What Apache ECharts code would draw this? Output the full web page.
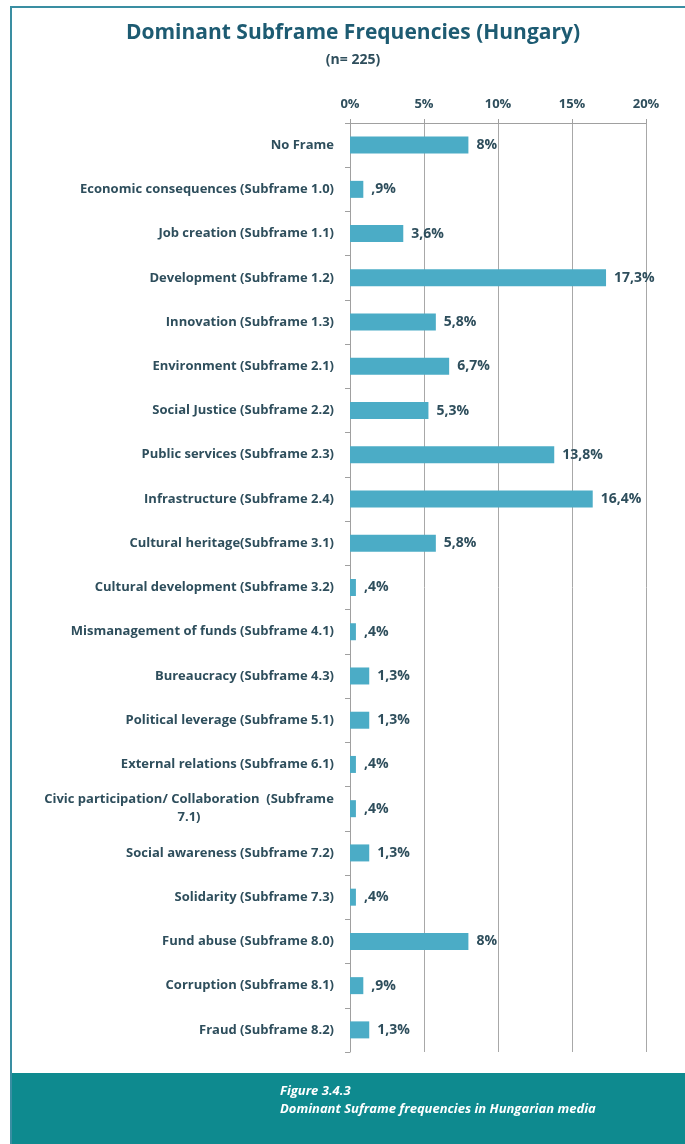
<!doctype html>
<html lang="en">
<head>
<meta charset="UTF-8">
<title>Dominant Subframe Frequencies (Hungary)</title>
<style>
  html, body { margin: 0; padding: 0; background: #fff; }
  #chart { width: 685px; height: 1144px; }
</style>
</head>
<body>
<div id="chart"></div>
<script src="https://cdn.jsdelivr.net/npm/echarts@6/dist/echarts.min.js"></script>
<script>
  // data
  var categories = [
    'No Frame',
    'Economic consequences (Subframe 1.0)',
    'Job creation (Subframe 1.1)',
    'Development (Subframe 1.2)',
    'Innovation (Subframe 1.3)',
    'Environment (Subframe 2.1)',
    'Social Justice (Subframe 2.2)',
    'Public services (Subframe 2.3)',
    'Infrastructure (Subframe 2.4)',
    'Cultural heritage(Subframe 3.1)',
    'Cultural development (Subframe 3.2)',
    'Mismanagement of funds (Subframe 4.1)',
    'Bureaucracy (Subframe 4.3)',
    'Political leverage (Subframe 5.1)',
    'External relations (Subframe 6.1)',
    'Civic participation/ Collaboration  (Subframe\n7.1)',
    'Social awareness (Subframe 7.2)',
    'Solidarity (Subframe 7.3)',
    'Fund abuse (Subframe 8.0)',
    'Corruption (Subframe 8.1)',
    'Fraud (Subframe 8.2)'
  ];
  var values = [8, 0.9, 3.6, 17.3, 5.8, 6.7, 5.3, 13.8, 16.4, 5.8, 0.4, 0.4, 1.3, 1.3, 0.4, 0.4, 1.3, 0.4, 8, 0.9, 1.3];
  var xTicks = { min: 0, max: 20, interval: 5 };

  var textColor = '#2e4e5c';
  var font = 'Open Sans';

  // 0.9 -> ",9%"   3.6 -> "3,6%"   8 -> "8%"
  function pct(v) {
    var s = String(v).replace('.', ',');
    if (s.indexOf('0,') === 0) s = s.slice(1);
    return s + '%';
  }

  var chart = echarts.init(document.getElementById('chart'));
  chart.setOption({
    backgroundColor: '#fff',
    animation: false,
    title: [{
      text: 'Dominant Subframe Frequencies (Hungary)',
      left: 348, top: 18, textAlign: 'center',
      textStyle: { fontFamily: font, fontSize: 21, fontWeight: 'bold', color: '#1d5b72' }
    }, {
      text: '(n= 225)',
      left: 348, top: 48, textAlign: 'center',
      textStyle: { fontFamily: font, fontSize: 14, fontWeight: 'bold', color: textColor }
    }],
    grid: { left: 350, right: 39, top: 123, bottom: 92, containLabel: false },
    xAxis: {
      type: 'value',
      position: 'top',
      min: xTicks.min, max: xTicks.max, interval: xTicks.interval,
      axisLine: { show: true, lineStyle: { color: '#a0a0a0', width: 1 } },
      axisTick: { show: true, length: 4, lineStyle: { color: '#a0a0a0' } },
      splitLine: { show: true, lineStyle: { color: '#a8a8a8', width: 1 } },
      axisLabel: {
        formatter: '{value}%', margin: 12,
        fontFamily: font, fontSize: 13, fontWeight: 'bold', color: textColor
      }
    },
    yAxis: {
      type: 'category',
      inverse: true,
      data: categories,
      axisLine: { show: true, lineStyle: { color: '#a0a0a0', width: 1 } },
      axisTick: { show: true, length: 5, lineStyle: { color: '#a0a0a0' } },
      axisLabel: {
        margin: 16,
        fontFamily: font, fontSize: 13, fontWeight: 'bold', color: textColor,
        lineHeight: 18,
        formatter: function (v) {
          if (v.indexOf('\n') < 0) return v;
          return v.split('\n').map(function (l) { return '{c|' + l + '}'; }).join('\n');
        },
        rich: {
          c: { width: 290, align: 'center', fontFamily: font, fontSize: 13, fontWeight: 'bold', color: textColor, lineHeight: 18 }
        }
      }
    },
    series: [{
      type: 'bar',
      data: values,
      barWidth: 17,
      itemStyle: { color: '#4bacc6' },
      label: {
        show: true, position: 'right', distance: 8,
        formatter: function (p) { return pct(p.value); },
        fontFamily: font, fontSize: 14, fontWeight: 'bold', color: textColor
      }
    }],
    graphic: [
      // thin frame round the white area
      { type: 'rect', shape: { x: 11, y: 7, width: 690, height: 1150 }, style: { fill: 'none', stroke: '#3a8ea2', lineWidth: 2 }, silent: true },
      // caption band
      { type: 'rect', shape: { x: 12, y: 1073, width: 673, height: 71 }, style: { fill: '#0e8a8f' }, silent: true },
      {
        type: 'text', left: 280, top: 1082,
        style: {
          text: 'Figure 3.4.3\nDominant Suframe frequencies in Hungarian media',
          fill: '#fff', font: 'italic bold 13px "Open Sans"', lineHeight: 18
        }
      }
    ]
  });
</script>
</body>
</html>
